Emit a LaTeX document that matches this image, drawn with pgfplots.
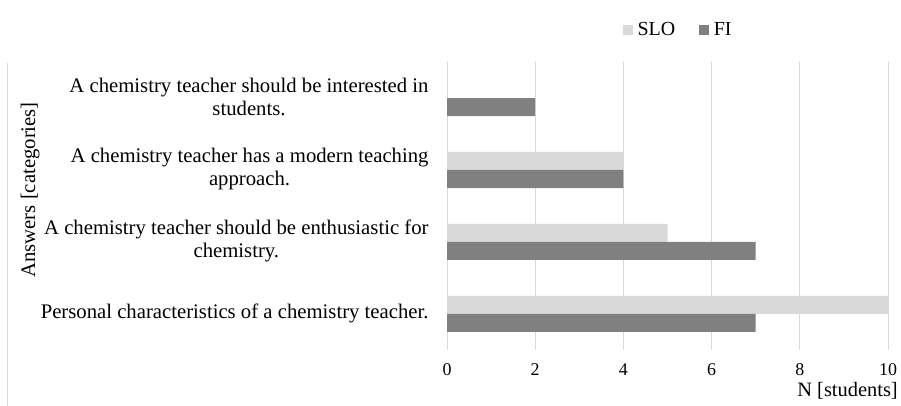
\documentclass[border=0pt]{standalone}
\usepackage{pgfplots}
\pgfplotsset{compat=1.18}
\usepackage{fontspec}
\setmainfont{Liberation Serif}
\definecolor{slo}{HTML}{D9D9D9}
\definecolor{fi}{HTML}{808080}
\definecolor{gridc}{HTML}{D9D9D9}
\begin{document}
\begin{tikzpicture}
\path[use as bounding box] (0,0) rectangle (901bp,406bp);
\draw[gridc, line width=0.8bp] (7bp,0) -- (7bp,343bp);
\begin{axis}[
  at={(447bp,56bp)}, anchor=south west,
  scale only axis, width=441bp, height=288bp,
  xmin=0, xmax=10, ymin=-0.5, ymax=3.5,
  xtick={0,2,4,6,8,10}, ytick={0,1,2,3},
  yticklabels={
    {Personal characteristics of a chemistry teacher.},
    {A chemistry teacher should be enthusiastic for\\chemistry.},
    {A chemistry teacher has a modern teaching\\approach.},
    {A chemistry teacher should be interested in\\students.}},
  xbar, bar width=18bp,
  axis line style={draw=none},
  major tick style={draw=none},
  xmajorgrids, major grid style={gridc, line width=1bp},
  /pgf/number format/assume math mode=true,
  xticklabel style={font=\fontsize{18}{20}\selectfont, inner sep=0pt, yshift=-13bp},
  yticklabel style={font=\fontsize{20.8}{23}\selectfont, align=center, inner sep=0pt, anchor=east, xshift=-14bp, yshift=1bp},
  xlabel={N [students]},
  xlabel style={font=\fontsize{20.5}{22}\selectfont, at={(axis description cs:1,0)}, anchor=east, xshift=10bp, yshift=-41bp, inner sep=0pt},
  ylabel={Answers [categories]},
  ylabel style={font=\fontsize{20.8}{23}\selectfont, at={(axis description cs:-0.945,0.556)}, anchor=center, inner sep=0pt},
  legend columns=2,
  legend style={draw=none, at={(axis description cs:0.399,1.111)}, anchor=west, inner sep=0pt,
    font=\fontsize{20}{22}\selectfont, nodes={inner sep=0bp},
    /tikz/every odd column/.append style={column sep=5bp},
    /tikz/every even column/.append style={column sep=24bp}},
  legend image code/.code={\fill[#1] (0bp,-4.5bp) rectangle (9.5bp,5bp);},
]
\addplot[fill=slo, draw=none, bar shift=9bp] coordinates {(10,0) (5,1) (4,2) (0,3)};
\addplot[fill=fi, draw=none, bar shift=-9bp] coordinates {(7,0) (7,1) (4,2) (2,3)};
\legend{SLO, FI}
\end{axis}
\end{tikzpicture}
\end{document}
